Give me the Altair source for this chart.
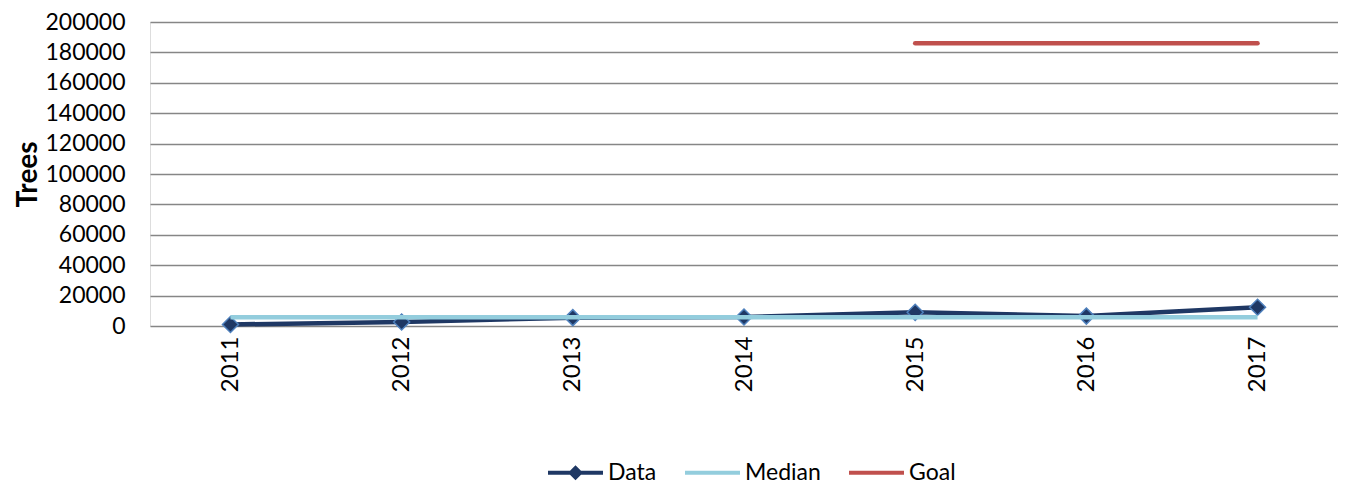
import altair as alt
import pandas as pd

years = ["2011", "2012", "2013", "2014", "2015", "2016", "2017"]
data_values = [1000, 2600, 5500, 5900, 9000, 6500, 12300]
median_values = [5800, 5800, 5800, 5800, 5800, 5800, 5800]
goal_years = ["2015", "2016", "2017"]
goal_values = [186000, 186000, 186000]

series_names = ["Data", "Median", "Goal"]
series_colors = ["#1F3864", "#93CDDD", "#C0504D"]
y_ticks = [0, 20000, 40000, 60000, 80000, 100000, 120000, 140000, 160000, 180000, 200000]

df_data = pd.DataFrame({"year": years, "value": data_values, "series": "Data"})
df_median = pd.DataFrame({"year": years, "value": median_values, "series": "Median"})
df_goal = pd.DataFrame({"year": goal_years, "value": goal_values, "series": "Goal"})
df_all = pd.concat([df_data, df_median, df_goal], ignore_index=True)

FONT = "Lato"
BAR = "M-1,-0.07L1,-0.07L1,0.07L-1,0.07Z"
DIA = "M-1,-0.07L-0.2,-0.07L0,-0.27L0.2,-0.07L1,-0.07L1,0.07L0.2,0.07L0,0.27L-0.2,0.07L-1,0.07Z"

x_enc = alt.X(
    "year:O",
    scale=alt.Scale(domain=years, type="point", padding=0.47),
    axis=alt.Axis(
        title=None, labelAngle=270, labelAlign="right", labelBaseline="middle",
        labelPadding=10, ticks=False, tickSize=0, domain=False, grid=False,
        labelFont=FONT, labelFontSize=24, labelColor="#000000",
    ),
)
y_enc = alt.Y(
    "value:Q",
    scale=alt.Scale(domain=[0, 200000], nice=False, zero=True),
    axis=alt.Axis(
        title="Trees", values=y_ticks, format="d", ticks=False, tickSize=0,
        domain=False, grid=True, gridColor="#868686", gridWidth=1.5,
        labelPadding=25, labelFont=FONT, labelFontSize=23, labelColor="#000000",
        titleFont=FONT, titleFontSize=28, titleFontWeight="bold",
        titleColor="#000000", titlePadding=2,
    ),
)

legend = alt.Legend(
    title=None, orient="none", direction="horizontal", legendX=398, legendY=423,
    symbolSize=3025, symbolStrokeWidth=0, labelFont=FONT, labelFontSize=23,
    labelColor="#000000", labelOffset=5, columnPadding=28, padding=0,
)

data_line = alt.Chart(df_data).mark_line(strokeWidth=4.5, color=series_colors[0]).encode(
    x=x_enc, y=y_enc
)
data_pts = alt.Chart(df_data).mark_point(
    shape="diamond", filled=True, size=256,
    fill="#1F3864", stroke="#4F81BD", strokeWidth=1.5, opacity=1,
).encode(x=x_enc, y=y_enc)
median_line = alt.Chart(df_median).mark_line(strokeWidth=4.5, color=series_colors[1]).encode(
    x=x_enc, y=y_enc
)
goal_line = alt.Chart(df_goal).mark_line(strokeWidth=4.5, strokeCap="round", color=series_colors[2]).encode(
    x=x_enc, y=y_enc
)
legend_layer = alt.Chart(df_all).transform_filter("false").mark_point(
    filled=True, opacity=1
).encode(
    x=x_enc,
    y=y_enc,
    color=alt.Color("series:N", scale=alt.Scale(domain=series_names, range=series_colors), legend=legend),
    shape=alt.Shape("series:N", scale=alt.Scale(domain=series_names, range=[DIA, BAR, BAR]), legend=legend),
)

chart = alt.layer(data_line, data_pts, median_line, goal_line, legend_layer).properties(
    width=1188,
    height=304,
    padding={"left": 142, "top": 14, "right": 0, "bottom": 158},
    autosize=alt.AutoSizeParams(type="none"),
).configure_view(strokeWidth=0).configure(background="white")

chart.save("out.html", embed_options={"renderer": "svg", "actions": False})
